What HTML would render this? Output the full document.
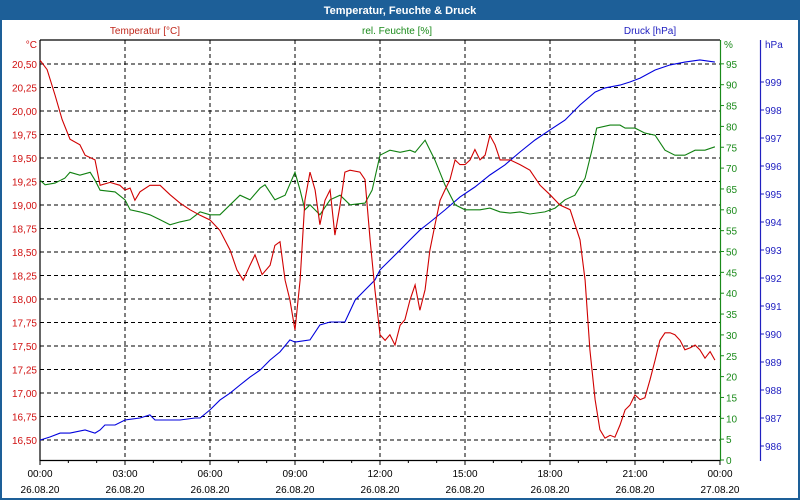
<!DOCTYPE html>
<html><head><meta charset="utf-8"><style>
html,body{margin:0;padding:0;background:#fff}
svg{display:block;font-family:"Liberation Sans",sans-serif}
</style></head><body>
<svg id="chart" width="800" height="500" viewBox="0 0 800 500">
<rect x="0" y="0" width="800" height="500" fill="#1d5f98"/>
<rect x="2" y="20" width="796" height="478" fill="#fff"/>
<text x="400" y="14" text-anchor="middle" font-size="11" font-weight="bold" fill="#fff">Temperatur, Feuchte &amp; Druck</text>
<text x="145" y="34" text-anchor="middle" font-size="10" fill="#c0281c">Temperatur [°C]</text>
<text x="397" y="34" text-anchor="middle" font-size="10" fill="#1a8a1a">rel. Feuchte [%]</text>
<text x="650" y="34" text-anchor="middle" font-size="10" fill="#2020c0">Druck [hPa]</text>
<text x="37" y="48" text-anchor="end" font-size="10" fill="#d01010">°C</text>
<text x="724" y="48" font-size="10" fill="#1a8a1a">%</text>
<text x="765" y="48" font-size="10" fill="#2020c0">hPa</text>
<g id="grid"></g><g id="axes"></g><g id="series"></g>
</svg>
<script>
const tempTicks=["16,50","16,75","17,00","17,25","17,50","17,75","18,00","18,25","18,50","18,75","19,00","19,25","19,50","19,75","20,00","20,25","20,50"];
const humTicks=[0,5,10,15,20,25,30,35,40,45,50,55,60,65,70,75,80,85,90,95];
const presTicks=[986,987,988,989,990,991,992,993,994,995,996,997,998,999];
const timeLabels=["00:00","03:00","06:00","09:00","12:00","15:00","18:00","21:00","00:00"];
const dateLabels=["26.08.20","26.08.20","26.08.20","26.08.20","26.08.20","26.08.20","26.08.20","26.08.20","27.08.20"];
const tempHours=[0,.25,.53,.78,1.06,1.41,1.59,1.94,2.12,2.47,2.82,3,3.18,3.35,3.53,3.88,4.24,4.59,4.94,5.29,5.65,6,6.35,6.71,6.95,7.17,7.41,7.59,7.84,8.12,8.29,8.47,8.65,8.82,9,9.18,9.35,9.53,9.71,9.88,10.06,10.24,10.41,10.59,10.76,10.94,11.29,11.47,11.65,11.82,12,12.18,12.35,12.53,12.71,12.88,13.06,13.24,13.41,13.59,13.76,13.94,14.12,14.29,14.47,14.65,14.82,15,15.18,15.35,15.53,15.71,15.88,16.06,16.24,16.59,16.94,17.29,17.65,18,18.35,18.71,19.06,19.24,19.41,19.59,19.76,19.94,20.12,20.29,20.47,20.65,20.82,21,21.18,21.35,21.53,21.71,21.88,22.06,22.24,22.41,22.59,22.76,22.94,23.12,23.29,23.47,23.65,23.82];
const tempValues=[20.54,20.44,20.17,19.91,19.70,19.64,19.53,19.48,19.21,19.24,19.21,19.16,19.18,19.05,19.14,19.21,19.21,19.11,19.02,18.95,18.89,18.84,18.73,18.52,18.31,18.20,18.36,18.47,18.26,18.36,18.57,18.61,18.20,17.99,17.67,18.20,19.05,19.35,19.16,18.79,19.05,19.16,18.68,19.00,19.35,19.37,19.35,19.27,18.63,18.10,17.62,17.56,17.62,17.51,17.72,17.78,17.99,18.15,17.88,18.10,18.52,18.79,19.05,19.16,19.27,19.48,19.43,19.43,19.48,19.59,19.48,19.53,19.74,19.64,19.48,19.48,19.43,19.37,19.21,19.11,19.00,18.95,18.63,18.20,17.46,16.93,16.61,16.52,16.55,16.53,16.66,16.82,16.87,16.98,16.93,16.95,17.14,17.35,17.56,17.64,17.64,17.62,17.56,17.46,17.48,17.51,17.46,17.37,17.44,17.35];
const humHours=[0,.18,.53,.88,1.06,1.41,1.77,1.94,2.12,2.65,3,3.18,3.53,3.88,4.24,4.59,4.94,5.29,5.65,6,6.35,6.71,7.06,7.41,7.77,7.94,8.29,8.65,9,9.18,9.35,9.53,9.88,10.24,10.59,10.94,11.47,11.72,12,12.35,12.71,13.06,13.24,13.59,13.94,14.29,14.65,15,15.53,15.88,16.24,16.59,16.94,17.29,17.82,18.18,18.53,18.88,19.24,19.48,19.65,20.12,20.47,20.65,21,21.35,21.71,22.06,22.41,22.76,23.12,23.47,23.82];
const humValues=[67.1,66,66.4,67.6,69,68.3,69,67.1,64.7,64.3,62.4,60,59.5,58.8,57.6,56.4,57.1,57.6,59.5,58.8,58.8,61.2,63.5,62.4,65.2,66,62.4,63.5,69,64.7,60,61.2,58.8,62.4,63.5,61.2,61.6,64.7,73.1,74.3,73.8,74.3,73.8,76.7,71.9,66,61.2,60,60,60.4,59.5,59.2,59.5,59,59.5,60.4,62.4,63.5,67.6,74.3,79.6,80.3,80.3,79.6,79.6,78.4,77.9,74.3,73.1,73.1,74.3,74.3,75.1];
const presHours=[0,.35,.71,1.06,1.59,1.94,2.12,2.29,2.65,3,3.53,3.88,4.06,4.41,4.94,5.47,5.65,6,6.35,6.71,7.06,7.41,7.77,8.12,8.47,8.82,9,9.53,9.88,10.24,10.76,11.12,11.47,11.82,12,12.35,12.71,13.06,13.41,13.77,14.29,14.82,15.35,15.88,16.41,16.94,17.47,18,18.53,19.06,19.59,19.94,20.47,20.82,21.18,21.71,22.24,22.76,23.29,23.82];
const presValues=[986.21,986.32,986.46,986.46,986.57,986.46,986.57,986.75,986.75,986.93,987.0,987.11,986.93,986.93,986.93,987.0,987.0,987.29,987.64,987.89,988.18,988.46,988.71,989.07,989.36,989.79,989.71,989.79,990.32,990.43,990.43,991.21,991.57,991.93,992.29,992.64,993.0,993.36,993.71,994.0,994.43,994.89,995.25,995.68,996.04,996.5,996.93,997.29,997.64,998.18,998.64,998.79,998.89,999.0,999.14,999.43,999.61,999.71,999.79,999.71];

const X0=40,X1=720,Y0=40,Y1=460;
const xH=h=>X0+h*(X1-X0)/24;
const yT=t=>64+(20.5-t)*94;
const yHum=v=>460-v*4.17;
const yP=p=>82+(999-p)*28;
const NS="http://www.w3.org/2000/svg";
function mk(parent,tag,attrs,text){const e=document.createElementNS(NS,tag);for(const k in attrs)e.setAttribute(k,attrs[k]);if(text!==undefined)e.textContent=text;document.getElementById(parent).appendChild(e);return e;}
const tv=s=>parseFloat(s.replace(",","."));
tempTicks.forEach(s=>{const y=yT(tv(s));
 const l=mk("grid","line",{x1:X0,x2:X1,y1:y,y2:y,stroke:"#000","stroke-dasharray":"4,3","stroke-width":1});
 
 
 const t=mk("axes","text",{x:37,y:y+4,"text-anchor":"end","font-size":10,fill:"#d01010"},s);
 
 });
timeLabels.forEach((s,i)=>{const x=xH(i*3);
 if(i>0&&i<8){const l=mk("grid","line",{x1:x,x2:x,y1:Y0,y2:Y1,stroke:"#000","stroke-dasharray":"4,3"});
 
 }
 const t=mk("axes","text",{x:x,y:477,"text-anchor":"middle","font-size":10,fill:"#000"},s);
 
 
 const d=mk("axes","text",{x:x,y:493,"text-anchor":"middle","font-size":10,fill:"#000"},dateLabels[i]);
 
 });
for(let h=0;h<=24;h++){const x=xH(h);const l=mk("axes","line",{x1:x,x2:x,y1:Y1,y2:Y1+(h%3?3:5),stroke:"#000"});
 
 }
const frame=[[X0,Y0,X1,Y0,"#000"],[X0,Y0,X0,Y1+1,"#000"],[X0,Y1+.5,X1,Y1+.5,"#000"],[X1+.5,Y0,X1+.5,Y1+1,"#1a8a1a"],[760.5,Y0,760.5,Y1+1,"#2020c0"]];
frame.forEach(f=>{const l=mk("axes","line",{x1:f[0],y1:f[1],x2:f[2],y2:f[3],stroke:f[4],"stroke-width":1.2});
 
 });
humTicks.forEach(v=>{const y=yHum(v);
 const k=mk("axes","line",{x1:720,x2:724,y1:y,y2:y,stroke:"#1a8a1a"});
 
 
 const t=mk("axes","text",{x:726,y:y+4,"font-size":10,fill:"#1a8a1a"},String(v));
 
 });
presTicks.forEach(v=>{const y=yP(v);
 const k=mk("axes","line",{x1:760,x2:764,y1:y,y2:y,stroke:"#2020c0"});
 
 
 const t=mk("axes","text",{x:765,y:y+4,"font-size":10,fill:"#2020c0"},String(v));
 
 });
function line(hours,vals,yf,color,name){const p=mk("series","polyline",{points:hours.map((h,i)=>xH(h).toFixed(1)+","+yf(vals[i]).toFixed(1)).join(" "),fill:"none",stroke:color,"stroke-width":1.1});
 
 }
line(presHours,presValues,yP,"#0000dd","pressure-line");
line(humHours,humValues,yHum,"#108010","humidity-line");
line(tempHours,tempValues,yT,"#d00000","temperature-line");
</script>
</body></html>
